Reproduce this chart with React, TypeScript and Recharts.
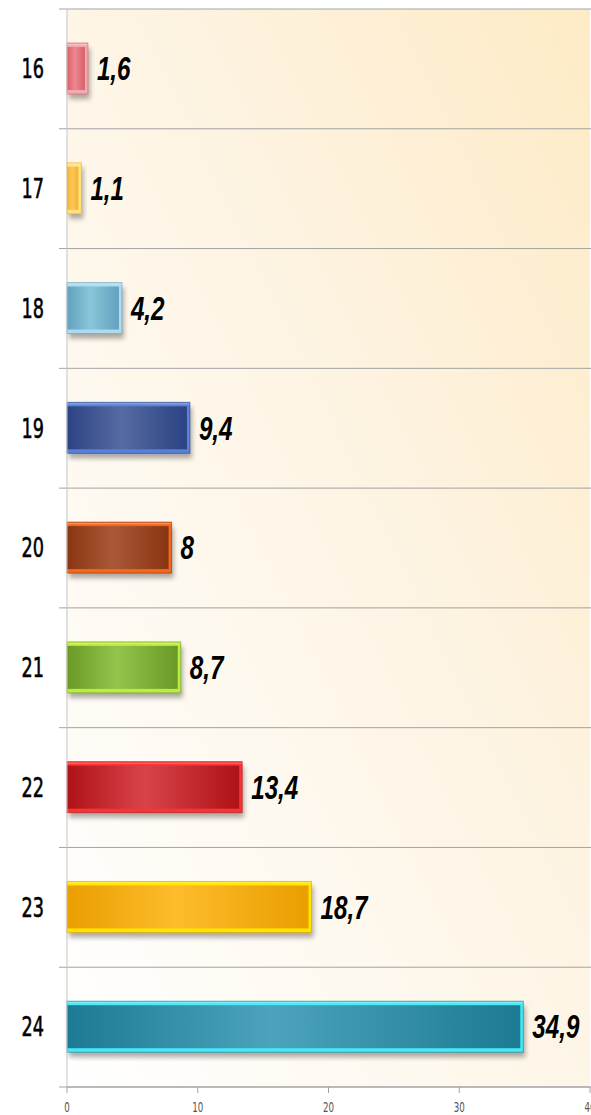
import { BarChart, Bar, XAxis, YAxis, CartesianGrid, LabelList } from 'recharts'

const ages = ['16', '17', '18', '19', '20', '21', '22', '23', '24']
const shares = [1.6, 1.1, 4.2, 9.4, 8, 8.7, 13.4, 18.7, 34.9]
const xTicks = [0, 10, 20, 30, 40]

// edge (dark), centre (light), rim (bright bevel)
const barEdge = ['#DA5F69', '#F3B236', '#62A1BF', '#2C4383', '#8A3512', '#6A9A26', '#AE1216', '#EA9E00', '#1C7A92']
const barCentre = ['#EC8890', '#FCC655', '#8AC6DA', '#566BA2', '#AA5838', '#94C44C', '#D8434A', '#FDBC2C', '#4CA3BC']
const barRim = ['#F5A8AE', '#FFE27A', '#ACDAEE', '#5A80DA', '#F2691E', '#BCEC42', '#FA3434', '#FFE600', '#44EAF8']

const data = ages.map((age, i) => ({ age, value: shares[i] }))

const fmt = (v: number) => String(v).replace('.', ',')

function BevelBar(props: any) {
  const { x, y, width, height, index } = props
  if (!width || width <= 0) return null
  const side = Math.min(3, width / 4)
  return (
    <g>
      <rect x={x + 2} y={y + 5} width={width} height={height} fill="#000" opacity={0.32} filter="url(#barShadow)" />
      <rect x={x} y={y} width={width} height={height} fill={barRim[index]} />
      <rect x={x} y={y + 4} width={width - side} height={height - 8} fill={`url(#barFill${index})`} />
      <line x1={x} y1={y + 1.5} x2={x + width} y2={y + 1.5} stroke="#fff" strokeOpacity={0.35} />
      <rect x={x} y={y} width={width} height={height} fill="none" stroke={barEdge[index]} strokeOpacity={0.6} />
    </g>
  )
}

// squeezed text, the original uses a condensed face we don't have
function AgeTick({ x, y, payload }: any) {
  return (
    <text
      transform={`translate(${x},${y}) scale(0.68,1)`}
      textAnchor="end"
      dy="0.36em"
      fontFamily="DejaVu Sans"
      fontSize={26}
      fill="#000"
      stroke="#000"
      strokeWidth={0.6}
    >
      {payload.value}
    </text>
  )
}

function ValueTick({ x, y, payload }: any) {
  return (
    <text
      transform={`translate(${x},${y}) scale(0.62,1)`}
      textAnchor="middle"
      dy="0.71em"
      fontFamily="DejaVu Sans"
      fontSize={14}
      fill="#555"
    >
      {payload.value}
    </text>
  )
}

function BarValue({ x, y, width, height, value }: any) {
  return (
    <text
      transform={`translate(${x + width + 9},${y + height / 2}) scale(0.78,1.05)`}
      dy="0.36em"
      fontFamily="Liberation Sans"
      fontWeight="bold"
      fontStyle="italic"
      fontSize={31}
      fill="#000"
    >
      {fmt(value)}
    </text>
  )
}

const gridLine = (p: any) => (
  <line key={`h-${p.y1}`} x1={p.x1 - 8} y1={p.y1} x2={p.x2 + 1} y2={p.y2} stroke="#A3A3A3" strokeWidth={1} />
)

export default function App() {
  return (
    <div style={{ position: 'absolute', left: 0, top: 0, width: 591, height: 1115, background: '#fff' }}>
      <BarChart
        width={591}
        height={1115}
        data={data}
        layout="vertical"
        margin={{ top: 9, right: 1, left: 0, bottom: 0 }}
      >
        <defs>
          <linearGradient id="plotBg" x1="0" y1="1" x2="1" y2="0">
            <stop offset="0%" stopColor="#FFFFFF" />
            <stop offset="55%" stopColor="#FDF4E4" />
            <stop offset="100%" stopColor="#FEEBC6" />
          </linearGradient>
          {ages.map((_, i) => (
            <linearGradient key={i} id={`barFill${i}`} x1="0" y1="0" x2="1" y2="0">
              <stop offset="0%" stopColor={barEdge[i]} />
              <stop offset="45%" stopColor={barCentre[i]} />
              <stop offset="100%" stopColor={barEdge[i]} />
            </linearGradient>
          ))}
          <filter id="barShadow" x="-10%" y="-20%" width="130%" height="160%">
            <feGaussianBlur stdDeviation="2.5" />
          </filter>
        </defs>
        <CartesianGrid
          vertical={false}
          fill="url(#plotBg)"
          horizontal={gridLine}
          horizontalCoordinatesGenerator={({ offset }: any) =>
            Array.from({ length: ages.length + 1 }, (_, i) => offset.top + (i * offset.height) / ages.length)
          }
        />
        <XAxis
          type="number"
          domain={[0, 40]}
          ticks={xTicks}
          height={28}
          tickSize={6}
          tickMargin={9}
          axisLine={{ stroke: '#A3A3A3' }}
          tickLine={{ stroke: '#A3A3A3' }}
          tick={<ValueTick />}
          interval={0}
        />
        <YAxis
          type="category"
          dataKey="age"
          width={67}
          tickSize={0}
          tickMargin={23}
          axisLine={{ stroke: '#C4C4C4' }}
          tickLine={false}
          tick={<AgeTick />}
          interval={0}
        />
        <Bar dataKey="value" barSize={51} shape={BevelBar} isAnimationActive={false}>
          <LabelList dataKey="value" content={<BarValue />} />
        </Bar>
      </BarChart>
    </div>
  )
}
